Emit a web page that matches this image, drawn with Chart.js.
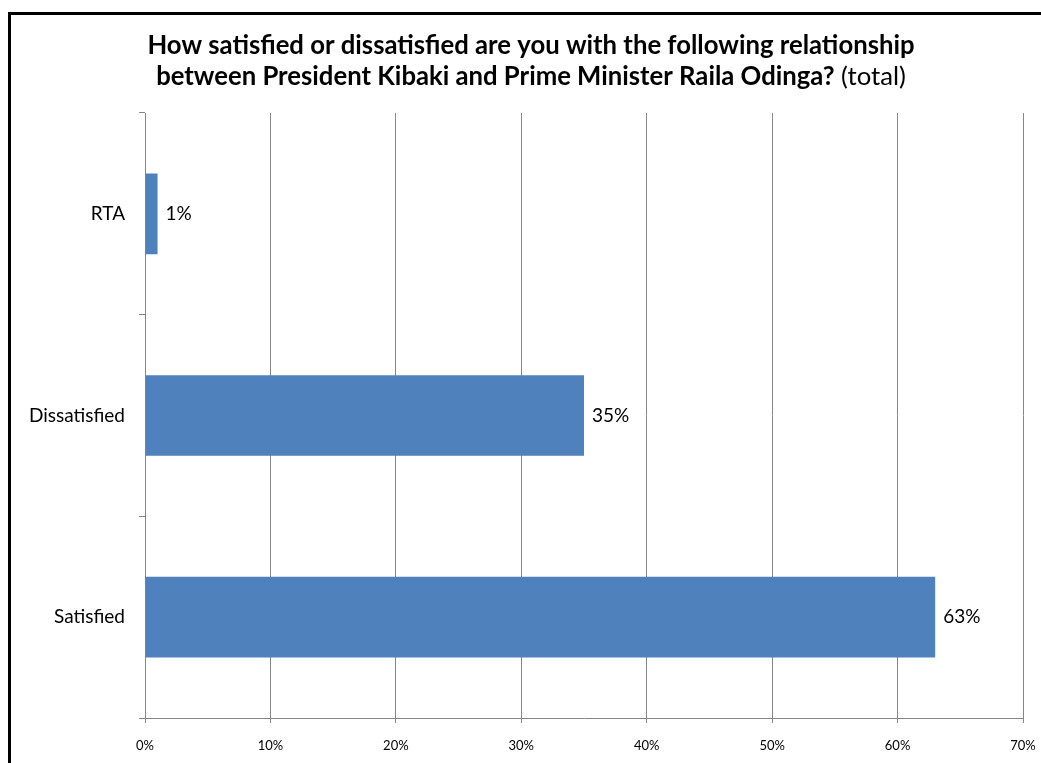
<!DOCTYPE html>
<html>
<head>
<meta charset="utf-8">
<script src="https://cdn.jsdelivr.net/npm/chart.js@4/dist/chart.umd.min.js"></script>
<style>
  html, body { margin: 0; padding: 0; background: #fff; }
  #wrap { width: 1041px; height: 763px; position: relative; }
</style>
</head>
<body>
<div id="wrap"><canvas id="chart" width="1041" height="763"></canvas></div>
<script>
'use strict';

// chart data
const categories = ['RTA', 'Dissatisfied', 'Satisfied'];
const shares = [1, 35, 63];
const xTicks = [0, 10, 20, 30, 40, 50, 60, 70];

const titleBold1 = 'How satisfied or dissatisfied are you with the following relationship';
const titleBold2 = 'between President Kibaki and Prime Minister Raila Odinga?';
const titleNormal2 = ' (total)';

const FONT = 'Lato, "Open Sans", sans-serif';
const barBlue = '#4F81BD';
const gridGrey = '#868686';

let canvasElem = document.getElementById('chart');

// title with mixed bold / normal text, plus the outer frame
const frameAndTitle = {
  id: 'frameAndTitle',
  beforeDraw(chart) {
    const ctx = chart.ctx;
    ctx.save();
    ctx.fillStyle = '#fff';
    ctx.fillRect(0, 0, chart.width, chart.height);
    ctx.strokeStyle = '#000';
    ctx.lineWidth = 3;
    ctx.beginPath();
    ctx.moveTo(9.5, chart.height + 5);
    ctx.lineTo(9.5, 13.5);
    ctx.lineTo(chart.width + 5, 13.5);
    ctx.stroke();
    ctx.restore();
  },
  afterDraw(chart) {
    const ctx = chart.ctx;
    const cx = 531;
    const size = 25.7;
    ctx.save();
    ctx.fillStyle = '#000';
    ctx.textBaseline = 'alphabetic';
    ctx.textAlign = 'left';
    ctx.font = 'bold ' + size + 'px ' + FONT;
    let w1 = ctx.measureText(titleBold1).width;
    ctx.fillText(titleBold1, cx - w1 / 2, 54);
    let wb = ctx.measureText(titleBold2).width;
    ctx.font = size + 'px ' + FONT;
    let wn = ctx.measureText(titleNormal2).width;
    let start = cx - (wb + wn) / 2;
    ctx.font = 'bold ' + size + 'px ' + FONT;
    ctx.fillText(titleBold2, start, 85);
    ctx.font = size + 'px ' + FONT;
    ctx.fillText(titleNormal2, start + wb, 85);
    ctx.restore();
  }
};

// value labels at the end of each bar
const barLabels = {
  id: 'barLabels',
  afterDatasetsDraw(chart) {
    const ctx = chart.ctx;
    const meta = chart.getDatasetMeta(0);
    ctx.save();
    ctx.fillStyle = '#000';
    ctx.font = '19px ' + FONT;
    ctx.textAlign = 'left';
    ctx.textBaseline = 'middle';
    meta.data.forEach((bar, i) => {
      ctx.fillText(shares[i] + '%', bar.x + 8, bar.y);
    });
    ctx.restore();
  }
};

new Chart(canvasElem, {
  type: 'bar',
  data: {
    labels: categories,
    datasets: [{
      data: shares,
      backgroundColor: barBlue,
      borderWidth: 0,
      barPercentage: 0.4,
      categoryPercentage: 1
    }]
  },
  options: {
    indexAxis: 'y',
    responsive: false,
    animation: false,
    layout: { padding: { left: 0, top: 113, right: 18, bottom: 0 } },
    plugins: {
      legend: { display: false },
      title: { display: false },
      tooltip: { enabled: false }
    },
    scales: {
      x: {
        min: 0,
        max: 70,
        afterBuildTicks: (s) => { s.ticks = xTicks.map(v => ({ value: v })); },
        afterFit: (s) => {
          s.height = 45;
          s.paddingLeft = 0;
          s.paddingRight = 0;
        },
        grid: { color: gridGrey, lineWidth: 1, tickLength: 5 },
        border: { color: gridGrey, width: 1 },
        ticks: {
          color: '#000',
          padding: 15,
          font: { family: FONT, size: 13 },
          callback: (v) => v + '%'
        }
      },
      y: {
        afterFit: (s) => {
          s.width = 145;
          s.paddingTop = 0;
          s.paddingBottom = 0;
        },
        grid: { drawOnChartArea: false, color: gridGrey, tickLength: 6 },
        border: { color: gridGrey, width: 1 },
        ticks: {
          color: '#000',
          padding: 14,
          font: { family: FONT, size: 19 }
        }
      }
    }
  },
  plugins: [frameAndTitle, barLabels]
});
</script>
</body>
</html>
